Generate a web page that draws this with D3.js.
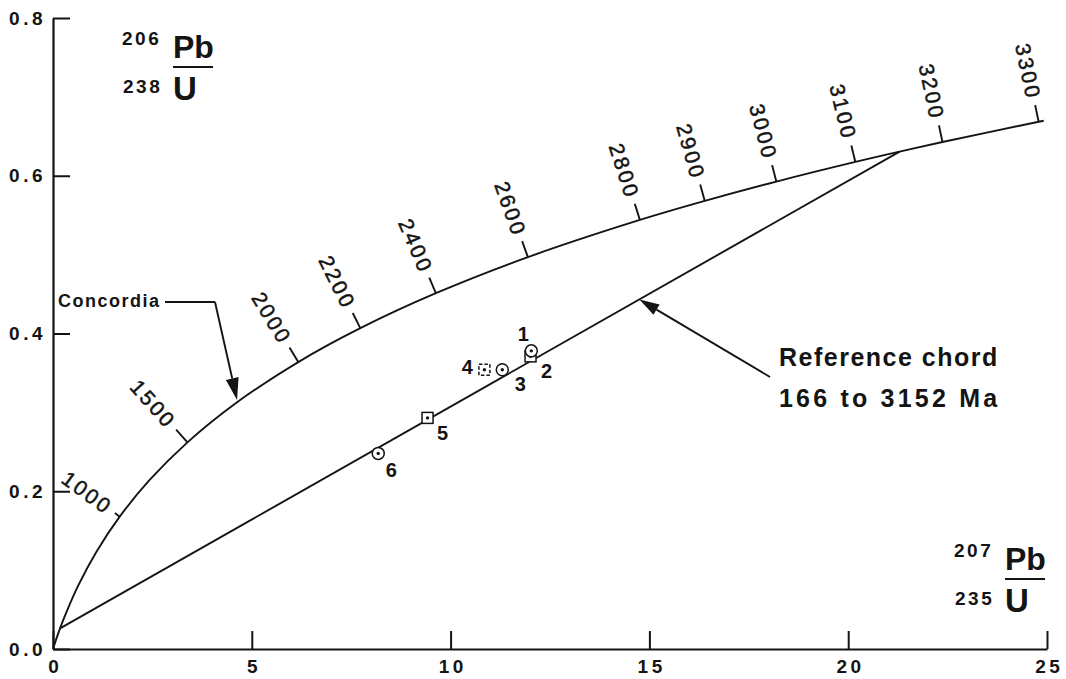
<!DOCTYPE html>
<html>
<head>
<meta charset="utf-8">
<script src="https://cdn.jsdelivr.net/npm/d3@7"></script>
<style>
  html, body { margin: 0; padding: 0; background: #fff; }
  svg { display: block; }
  text { font-family: "Liberation Sans", Arial, Helvetica, sans-serif; fill: #141414; }
</style>
</head>
<body>
<svg id="chart" width="1066" height="679"></svg>
<script>
// Concordia: isotope ratios at selected ages (Ma)
const concordiaAges = [0, 100, 166, 250, 500, 750, 1000, 1250, 1500, 1750, 2000, 2200, 2400, 2600, 2800, 2900, 3000, 3100, 3152, 3200, 3300, 3305];
const concordiaPb207U235 = [0, 0.1035, 0.1776, 0.2792, 0.6363, 1.0931, 1.6774, 2.4249, 3.3810, 4.6041, 6.1685, 7.7292, 9.6296, 11.9437, 14.7617, 16.393, 18.193, 20.180, 21.293, 22.372, 24.790, 24.918];
const concordiaPb206U238 = [0, 0.01563, 0.02609, 0.03954, 0.08065, 0.12338, 0.16780, 0.21398, 0.26199, 0.31189, 0.36377, 0.40674, 0.45107, 0.49679, 0.54396, 0.56810, 0.59261, 0.61751, 0.63059, 0.64280, 0.66848, 0.66978];
const labelledAges = [1000, 1500, 2000, 2200, 2400, 2600, 2800, 2900, 3000, 3100, 3200, 3300];

// Reference chord: lower and upper intercept ages (Ma)
const chordAges = [166, 3152];

// Zircon analyses
const sampleIds = ["1", "2", "3", "4", "5", "6"];
const samplePb207U235 = [12.03, 12.01, 11.30, 10.85, 9.42, 8.18];
const samplePb206U238 = [0.378, 0.371, 0.354, 0.354, 0.293, 0.248];
const sampleSymbols = ["circle", "square", "circle", "square-dashed", "square", "circle"];

// Axis ticks
const xTickValues = [0, 5, 10, 15, 20, 25];
const yTickValues = [0.0, 0.2, 0.4, 0.6, 0.8];

// ---- layout & style ----
const svg = d3.select("#chart");
const x = d3.scaleLinear().domain([0, 25]).range([53, 1047]);
const y = d3.scaleLinear().domain([0, 0.8]).range([649, 18]);
const ink = "#141414";

// label offsets for the analyses (px)
const sampleLabelOffset = {
  "1": [-8, -17], "2": [16, 15], "3": [18, 14], "4": [-17, -3], "5": [15, 15], "6": [13, 17]
};
const concordiaTickLen = { 1000: 6 };
const defaultTickLen = 17;

// ---- axes ----
const yAxis = d3.axisLeft(y).tickValues(yTickValues).tickFormat(d3.format(".1f"))
  .tickSizeInner(-17).tickSizeOuter(0).tickPadding(7);
const xAxis = d3.axisBottom(x).tickValues(xTickValues).tickFormat(d3.format("d"))
  .tickSizeInner(-18).tickSizeOuter(0).tickPadding(11);

function styleAxis(g) {
  g.select(".domain").attr("stroke", ink).attr("stroke-width", 2.2);
  g.selectAll(".tick line").attr("stroke", ink).attr("stroke-width", 2);
  g.selectAll(".tick text")
    .attr("fill", ink)
    .style("font-family", '"Liberation Sans", Arial, sans-serif')
    .style("font-weight", "bold")
    .style("font-size", "19px")
    .style("letter-spacing", "3.5px");
}

svg.append("g").attr("transform", `translate(${x(0)},0)`).call(yAxis).call(styleAxis);
svg.append("g").attr("transform", `translate(0,${y(0)})`).call(xAxis).call(styleAxis)
  .selectAll(".tick text").attr("dx", "1.75px");

// ---- concordia curve ----
const concordiaPts = concordiaAges.map((a, i) => [x(concordiaPb207U235[i]), y(concordiaPb206U238[i])]);
const line = d3.line().curve(d3.curveCatmullRom.alpha(0.5));
svg.append("path")
  .attr("d", line(concordiaPts))
  .attr("fill", "none").attr("stroke", ink).attr("stroke-width", 1.9);

// age ticks and labels along concordia
labelledAges.forEach(age => {
  const i = concordiaAges.indexOf(age);
  const p = concordiaPts[i], a = concordiaPts[i - 1], b = concordiaPts[i + 1];
  let tx = b[0] - a[0], ty = b[1] - a[1];
  const L = Math.hypot(tx, ty); tx /= L; ty /= L;
  const nx = ty, ny = -tx; // outward normal (up-left)
  const len = concordiaTickLen[age] || defaultTickLen;
  svg.append("line")
    .attr("x1", p[0]).attr("y1", p[1])
    .attr("x2", p[0] + nx * len).attr("y2", p[1] + ny * len)
    .attr("stroke", ink).attr("stroke-width", 1.9);
  const gap = 6;
  const lx = p[0] + nx * (len + gap), ly = p[1] + ny * (len + gap);
  const ang = Math.atan2(-ny, -nx) * 180 / Math.PI;
  svg.append("text")
    .attr("transform", `translate(${lx},${ly}) rotate(${ang})`)
    .attr("text-anchor", "end")
    .attr("dominant-baseline", "central")
    .attr("stroke", ink).attr("stroke-width", 0.5)
    .style("font-size", "21px")
    .style("letter-spacing", "2.5px")
    .text(age);
});

// ---- reference chord ----
const chordPts = chordAges.map(a => {
  const i = concordiaAges.indexOf(a);
  return [concordiaPb207U235[i], concordiaPb206U238[i]];
});
svg.append("line")
  .attr("x1", x(chordPts[0][0])).attr("y1", y(chordPts[0][1]))
  .attr("x2", x(chordPts[1][0])).attr("y2", y(chordPts[1][1]))
  .attr("stroke", ink).attr("stroke-width", 1.9);

// ---- arrows ----
function arrow(x1, y1, x2, y2, headLen, headW) {
  const dx = x2 - x1, dy = y2 - y1, L = Math.hypot(dx, dy);
  const ux = dx / L, uy = dy / L;
  const bx = x2 - ux * headLen, by = y2 - uy * headLen;
  svg.append("line").attr("x1", x1).attr("y1", y1).attr("x2", bx).attr("y2", by)
    .attr("stroke", ink).attr("stroke-width", 1.9);
  svg.append("path")
    .attr("d", `M${x2},${y2}L${bx - uy * headW / 2},${by + ux * headW / 2}L${bx + uy * headW / 2},${by - ux * headW / 2}Z`)
    .attr("fill", ink);
}

// Concordia label with leader
svg.append("text").attr("x", 58).attr("y", 307)
  .style("font-weight", "bold").style("font-size", "18px").style("letter-spacing", "1.5px")
  .text("Concordia");
svg.append("path").attr("d", "M165,302H215").attr("stroke", ink).attr("stroke-width", 1.9).attr("fill", "none");
const tipC = concordiaPts[concordiaAges.indexOf(1750)];
arrow(215, 302, tipC[0] + 1, tipC[1] - 3, 22, 13);

// Reference chord label with arrow
const chordTip = d3.interpolate(chordPts[0], chordPts[1])(0.69);
arrow(770, 377, x(chordTip[0]), y(chordTip[1]), 20, 12);
svg.append("text").attr("x", 779).attr("y", 366)
  .style("font-weight", "bold").style("font-size", "25px").style("letter-spacing", "1.5px")
  .text("Reference chord");
svg.append("text").attr("x", 779).attr("y", 407)
  .style("font-weight", "bold").style("font-size", "25px").style("letter-spacing", "3.2px")
  .text("166 to 3152 Ma");

// ---- analyses ----
const order = d3.range(sampleIds.length).sort((a, b) =>
  (sampleSymbols[a] === "circle") - (sampleSymbols[b] === "circle"));
order.forEach(i => {
  const px = x(samplePb207U235[i]), py = y(samplePb206U238[i]);
  const sym = sampleSymbols[i];
  if (sym === "circle") {
    svg.append("circle").attr("cx", px).attr("cy", py).attr("r", 6)
      .attr("fill", "#fff").attr("stroke", ink).attr("stroke-width", 1.5);
  } else {
    svg.append("rect").attr("x", px - 5.5).attr("y", py - 5.5).attr("width", 11).attr("height", 11)
      .attr("fill", "#fff").attr("stroke", ink).attr("stroke-width", 1.5)
      .attr("stroke-dasharray", sym === "square-dashed" ? "3.5,2" : null);
  }
  svg.append("circle").attr("cx", px).attr("cy", py).attr("r", 1.7).attr("fill", ink);
});
sampleIds.forEach((id, i) => {
  const off = sampleLabelOffset[id];
  svg.append("text")
    .attr("x", x(samplePb207U235[i]) + off[0]).attr("y", y(samplePb206U238[i]) + off[1])
    .attr("text-anchor", "middle").attr("dominant-baseline", "central")
    .style("font-weight", "bold").style("font-size", "20px")
    .text(id);
});

// ---- axis titles (isotope ratios) ----
function ratioLabel(left, lineY, topMass, topEl, botMass, botEl) {
  const g = svg.append("g");
  const elX = left + 51;
  g.append("text").attr("x", left).attr("y", lineY - 22)
    .style("font-weight", "bold").style("font-size", "19px").style("letter-spacing", "2.5px").text(topMass);
  g.append("text").attr("x", elX).attr("y", lineY - 9)
    .style("font-weight", "bold").style("font-size", "32px").text(topEl);
  g.append("line").attr("x1", elX).attr("x2", elX + 40).attr("y1", lineY).attr("y2", lineY)
    .attr("stroke", ink).attr("stroke-width", 2);
  g.append("text").attr("x", left + 1).attr("y", lineY + 26)
    .style("font-weight", "bold").style("font-size", "19px").style("letter-spacing", "2.5px").text(botMass);
  g.append("text").attr("x", elX).attr("y", lineY + 33)
    .style("font-weight", "bold").style("font-size", "33px").text(botEl);
}
ratioLabel(122, 67, "206", "Pb", "238", "U");
ratioLabel(954, 579, "207", "Pb", "235", "U");
</script>
</body>
</html>
